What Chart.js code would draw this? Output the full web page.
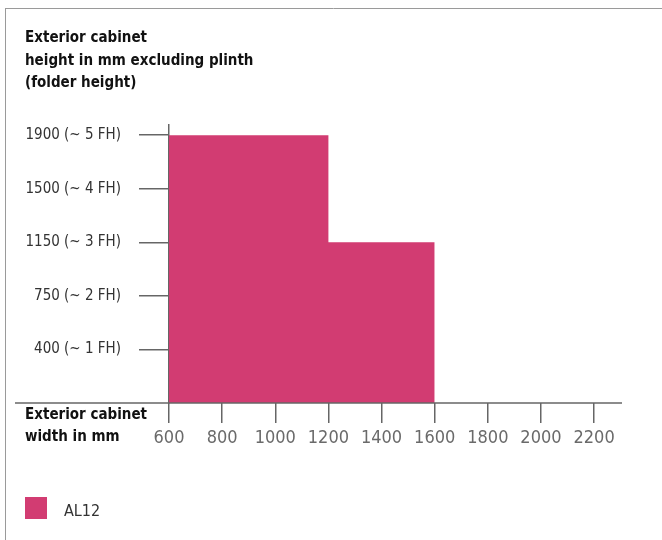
<!DOCTYPE html>
<html>
<head>
<meta charset="utf-8">
<script src="https://cdn.jsdelivr.net/npm/chart.js@4"></script>
<style>
  html, body { margin: 0; padding: 0; background: #fff; }
  #wrap { width: 662px; height: 540px; }
</style>
</head>
<body>
<div id="wrap"><canvas id="cabinetChart" width="662" height="540"></canvas></div>
<script>
// Höhenstufen (mm) und ihre Beschriftung
const heightValues = [400, 750, 1150, 1500, 1900];
const heightLabels = ['400 (~ 1 FH)', '750 (~ 2 FH)', '1150 (~ 3 FH)', '1500 (~ 4 FH)', '1900 (~ 5 FH)'];
// Breiten-Achse
const widthTicks = [600, 800, 1000, 1200, 1400, 1600, 1800, 2000, 2200];
// AL12: Breitenstufen und Höhe bis zur nächsten Stufe
const al12Widths = [600, 1200, 1600];
const al12Heights = [1900, 1150, 0];

const FONT = "'Liberation Sans Narrow', 'DejaVu Sans Condensed', sans-serif";
const BAR_COLOR = '#d23c72';

// Höhe in mm -> Position in FH-Stufen
const toLevel = (h) => heightValues.indexOf(h) + 1;

const extras = {
    id: 'extras',
    beforeDraw(chart) {
        const { ctx } = chart;
        ctx.save();
        ctx.strokeStyle = '#9a9a9a';
        ctx.lineWidth = 1;
        ctx.beginPath();
        ctx.moveTo(5, 8.5); ctx.lineTo(662, 8.5);
        ctx.moveTo(5.5, 8); ctx.lineTo(5.5, 540);
        ctx.stroke();
        ctx.restore();
    },
    afterDraw(chart) {
        const { ctx, chartArea } = chart;
        ctx.save();
        // x-Achsenlinie bis ganz links
        ctx.strokeStyle = '#666';
        ctx.lineWidth = 1.5;
        ctx.beginPath();
        ctx.moveTo(15, chartArea.bottom);
        ctx.lineTo(chartArea.right, chartArea.bottom);
        ctx.stroke();
        // Titel der x-Achse
        ctx.fillStyle = '#111';
        ctx.font = 'bold 15px ' + FONT;
        ctx.textBaseline = 'middle';
        ctx.fillText('Exterior cabinet', 25, 415);
        ctx.fillText('width in mm', 25, 437);
        // Legende
        const ds = chart.data.datasets[0];
        ctx.fillStyle = ds.backgroundColor;
        ctx.fillRect(25, 497, 22, 22);
        ctx.fillStyle = '#333';
        ctx.font = '16px ' + FONT;
        ctx.fillText(ds.label, 64, 512);
        ctx.restore();
    }
};

new Chart(document.getElementById('cabinetChart'), {
    type: 'line',
    data: {
        datasets: [{
            label: 'AL12',
            data: al12Widths.map((w, i) => ({ x: w, y: al12Heights[i] ? toLevel(al12Heights[i]) : 0 })),
            stepped: true,
            fill: 'origin',
            backgroundColor: BAR_COLOR,
            borderWidth: 0,
            pointRadius: 0
        }]
    },
    options: {
        responsive: false,
        animation: false,
        layout: { padding: { left: 25, right: 40, top: 0, bottom: 97 } },
        plugins: {
            legend: { display: false },
            tooltip: { enabled: false },
            title: {
                display: true,
                align: 'start',
                text: ['Exterior cabinet', 'height in mm excluding plinth', '(folder height)'],
                color: '#111',
                font: { family: FONT, size: 15, weight: 'bold', lineHeight: 1.5 },
                padding: { top: 27, bottom: 30 }
            }
        },
        scales: {
            x: {
                type: 'linear',
                min: 600,
                max: 2305,
                afterBuildTicks: (axis) => { axis.ticks = widthTicks.map(v => ({ value: v })); },
                afterFit: (axis) => { axis.height = 40; },
                border: { display: false },
                grid: { drawOnChartArea: false, tickLength: 20, tickColor: '#666', lineWidth: 1.5 },
                ticks: {
                    color: '#6a6a6a',
                    padding: 5,
                    font: { family: FONT, size: 18 },
                    callback: (v) => String(v)
                }
            },
            y: {
                type: 'linear',
                min: 0,
                max: 5.2,
                afterBuildTicks: (axis) => { axis.ticks = heightValues.map((v, i) => ({ value: i + 1 })); },
                afterFit: (axis) => { axis.width = 144; },
                border: { display: true, color: '#666', width: 1.5 },
                grid: { drawOnChartArea: false, tickLength: 30, tickColor: '#666', lineWidth: 1.5 },
                ticks: {
                    color: '#333',
                    padding: 18,
                    font: { family: FONT, size: 15 },
                    callback: (v) => heightLabels[v - 1]
                }
            }
        }
    },
    plugins: [extras]
});
</script>
</body>
</html>
